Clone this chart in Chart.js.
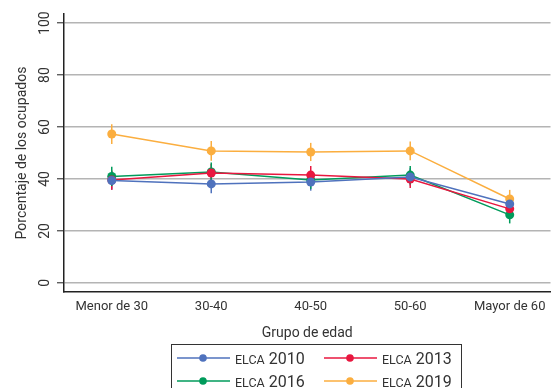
<!DOCTYPE html>
<html>
<head>
<meta charset="utf-8">
<script src="https://cdn.jsdelivr.net/npm/chart.js@4/dist/chart.umd.min.js"></script>
<style>
  html, body { margin: 0; padding: 0; background: #fff; }
  #wrap { width: 555px; height: 388px; position: relative; }
</style>
</head>
<body>
<div id="wrap"><canvas id="c" width="555" height="388"></canvas></div>
<script>
// Age groups along the x axis
const categories = ['Menor de 30', '30-40', '40-50', '50-60', 'Mayor de 60'];
const yTicks = [0, 20, 40, 60, 80, 100];

// Share of employed (%) per survey wave, with half-width of the confidence interval
const seriesNames = ['ELCA 2010', 'ELCA 2013', 'ELCA 2016', 'ELCA 2019'];
const elca2010 = [39.4, 38.1, 38.8, 40.8, 30.4];
const elca2013 = [39.6, 42.3, 41.5, 40.0, 28.5];
const elca2016 = [41.0, 42.7, 39.6, 41.5, 26.2];
const elca2019 = [57.3, 50.8, 50.4, 50.8, 32.3];
const ci2010 = [3.5, 3.6, 3.3, 3.3, 3.0];
const ci2013 = [3.7, 3.5, 3.5, 3.5, 3.0];
const ci2016 = [3.7, 3.6, 3.4, 3.5, 3.3];
const ci2019 = [3.8, 3.8, 3.5, 3.6, 3.5];

const colors = ['#4f72bd', '#e8173f', '#009b5b', '#fbae3f'];
const values = [elca2010, elca2013, elca2016, elca2019];
const cis = [ci2010, ci2013, ci2016, ci2019];

const datasets = values.map((vals, k) => ({
  label: seriesNames[k],
  data: vals.map((v, i) => ({ x: i, y: v })),
  ci: cis[k],
  borderColor: colors[k],
  backgroundColor: colors[k],
  borderWidth: 1.5,
  pointRadius: 4.5,
  pointHoverRadius: 4.5,
  pointBorderWidth: 0,
  tension: 0,
  fill: false
}));

// Vertical confidence-interval whiskers at each point
const errorBars = {
  id: 'errorBars',
  beforeDatasetsDraw(chart) {
    const ctx = chart.ctx;
    const xs = chart.scales.x, ys = chart.scales.y;
    ctx.save();
    chart.data.datasets.forEach(ds => {
      ctx.strokeStyle = ds.borderColor;
      ctx.lineWidth = 1.5;
      ds.data.forEach((p, i) => {
        const px = xs.getPixelForValue(p.x);
        ctx.beginPath();
        ctx.moveTo(px, ys.getPixelForValue(p.y - ds.ci[i]));
        ctx.lineTo(px, ys.getPixelForValue(p.y + ds.ci[i]));
        ctx.stroke();
      });
    });
    ctx.restore();
  }
};

// Boxed two-column legend under the axis title
const boxLegend = {
  id: 'boxLegend',
  afterDraw(chart) {
    const ctx = chart.ctx;
    ctx.save();
    ctx.strokeStyle = '#333';
    ctx.lineWidth = 1;
    ctx.strokeRect(171.5, 344.5, 290, 60);
    const cols = [177, 324];
    const rows = [358, 381];
    chart.data.datasets.forEach((ds, k) => {
      const x0 = cols[k % 2], y0 = rows[Math.floor(k / 2)];
      ctx.strokeStyle = ds.borderColor;
      ctx.lineWidth = 1.5;
      ctx.beginPath();
      ctx.moveTo(x0, y0);
      ctx.lineTo(x0 + 53, y0);
      ctx.stroke();
      ctx.fillStyle = ds.borderColor;
      ctx.beginPath();
      ctx.arc(x0 + 26, y0, 3.8, 0, Math.PI * 2);
      ctx.fill();
      const [word, year] = ds.label.split(' ');
      ctx.fillStyle = '#333';
      ctx.textBaseline = 'alphabetic';
      ctx.textAlign = 'left';
      ctx.font = '12.5px Roboto';
      const tx = x0 + 58;
      ctx.fillText(word, tx, y0 + 6);
      const w = ctx.measureText(word).width + 4;
      ctx.font = '16px Roboto';
      ctx.fillText(year, tx + w, y0 + 6);
    });
    ctx.restore();
  }
};

new Chart(document.getElementById('c'), {
  type: 'line',
  data: { datasets },
  plugins: [errorBars, boxLegend],
  options: {
    responsive: false,
    animation: false,
    events: [],
    layout: { padding: { top: 14, right: 0, left: 14, bottom: 46 } },
    plugins: { legend: { display: false }, tooltip: { enabled: false } },
    scales: {
      x: {
        type: 'linear',
        min: -0.48,
        max: 4.41,
        afterBuildTicks(scale) { scale.ticks = categories.map((_, i) => ({ value: i })); },
        afterFit(scale) { scale.height = 50; },
        grid: { display: false, drawOnChartArea: false, drawTicks: true, tickLength: 6, tickColor: '#222', tickWidth: 1.2 },
        border: { display: true, color: '#222', width: 1.5 },
        ticks: {
          autoSkip: false, maxRotation: 0, minRotation: 0, padding: 1,
          color: '#333', font: { family: 'Roboto', size: 13 },
          callback: v => categories[v]
        },
        title: { display: true, text: 'Grupo de edad', color: '#333', font: { family: 'Roboto', size: 14 }, padding: { top: 4, bottom: 0 } }
      },
      y: {
        min: -3.5,
        max: 103.5,
        afterBuildTicks(scale) { scale.ticks = yTicks.map(v => ({ value: v })); },
        afterFit(scale) { scale.width = 50; },
        grid: { color: '#b4b4b4', lineWidth: 1.5, drawTicks: true, tickLength: 7, tickColor: '#444', tickWidth: 1.2 },
        border: { display: true, color: '#222', width: 1.5 },
        ticks: {
          minRotation: 90, maxRotation: 90, padding: 0, crossAlign: 'center',
          color: '#333', font: { family: 'Roboto', size: 14 }
        },
        title: { display: true, text: 'Porcentaje de los ocupados', color: '#333', font: { family: 'Roboto', size: 14 }, padding: { top: 0, bottom: 2 } }
      }
    }
  }
});
</script>
</body>
</html>
